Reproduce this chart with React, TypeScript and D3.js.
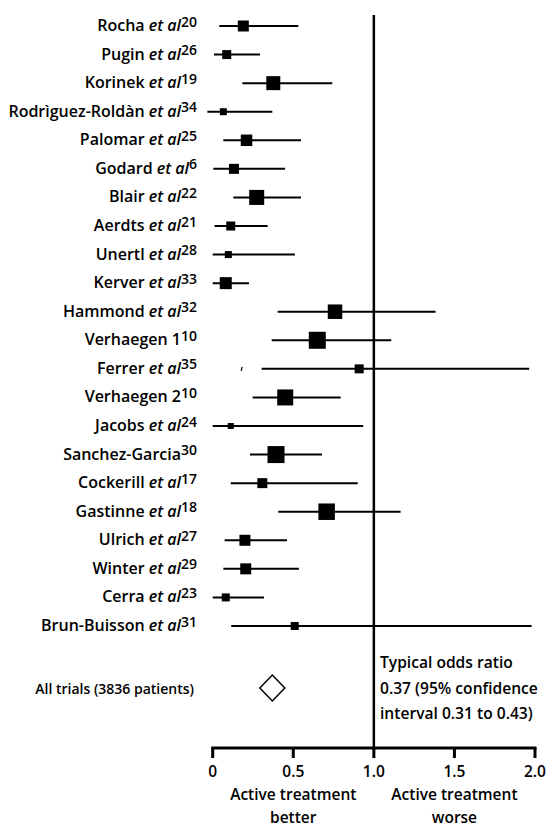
import React from "react";
import * as d3 from "d3";

const studyNames = [
  "Rocha", "Pugin", "Korinek", "Rodrìguez-Roldàn", "Palomar", "Godard", "Blair",
  "Aerdts", "Unertl", "Kerver", "Hammond", "Verhaegen 1", "Ferrer", "Verhaegen 2",
  "Jacobs", "Sanchez-Garcia", "Cockerill", "Gastinne", "Ulrich", "Winter", "Cerra",
  "Brun-Buisson",
];
const hasEtAl = [
  true, true, true, true, true, true, true, true, true, true, true, false, true, false,
  true, false, true, true, true, true, true, true,
];
const refs = [
  "20", "26", "19", "34", "25", "6", "22", "21", "28", "33", "32", "10", "35", "10",
  "24", "30", "17", "18", "27", "29", "23", "31",
];
const oddsRatio = [
  0.19, 0.087, 0.376, 0.066, 0.21, 0.132, 0.273, 0.112, 0.097, 0.081, 0.759, 0.649,
  0.909, 0.45, 0.112, 0.393, 0.308, 0.707, 0.2, 0.205, 0.081, 0.509,
];
const ciLow = [
  0.041, 0.008, 0.184, -0.033, 0.066, 0.004, 0.128, 0.012, 0.0, 0.0, 0.403, 0.366,
  0.304, 0.248, 0.0, 0.231, 0.112, 0.407, 0.074, 0.066, 0.0, 0.115,
];
const ciHigh = [
  0.531, 0.293, 0.742, 0.37, 0.548, 0.449, 0.548, 0.341, 0.51, 0.225, 1.383, 1.108,
  1.964, 0.794, 0.934, 0.678, 0.9, 1.166, 0.461, 0.535, 0.318, 1.979,
];
const weights = [
  12.1, 8.1, 19.6, 4.9, 13.2, 10, 22.5, 8.1, 4.9, 14.4, 21, 28.9, 8.1, 25.6, 3.6,
  28.9, 10, 27.2, 12.1, 12.1, 6.4, 6.4,
];
const pooledLabel = "All trials (3836 patients)";
const pooledOR = 0.37;
const pooledNote = [
  "Typical odds ratio",
  "0.37 (95% confidence",
  "interval 0.31 to 0.43)",
];
const xTicks = [0, 0.5, 1.0, 1.5, 2.0];
const xTickLabels = ["0", "0.5", "1.0", "1.5", "2.0"];
const sideLabels = [
  { v: 0.5, lines: ["Active treatment", "better"] },
  { v: 1.5, lines: ["Active treatment", "worse"] },
];

const FONT = "'Open Sans', Lato, sans-serif";
const W = 600;

export default function App() {
  const width = 547;
  const height = 827;
  const x = d3.scaleLinear().domain([0, 2]).range([212.7, 535]);
  const y = d3.scalePoint<string>().domain(studyNames).range([26, 626]);
  const size = d3.scaleSqrt().domain([0, 28.9]).range([0, 17]);
  const axisY = 748;
  const pooledY = 688;
  const labelRight = 197;

  return (
    <svg
      width={width}
      height={height}
      style={{ position: "absolute", left: 0, top: 0, background: "#fff" }}
      fontFamily={FONT}
      fontWeight={W}
    >
      <rect x={0} y={0} width={width} height={height} fill="#fff" />
      {/* reference line at OR = 1 */}
      <line x1={x(1)} x2={x(1)} y1={15} y2={axisY} stroke="#000" strokeWidth={2.5} />

      {studyNames.map((name, i) => {
        const cy = y(name) as number;
        const s = size(weights[i]);
        return (
          <g key={name + i}>
            <text x={labelRight} y={cy + 5} textAnchor="end" fontSize={16} fill="#000">
              <tspan>{name}</tspan>
              {hasEtAl[i] ? <tspan fontStyle="italic"> et al</tspan> : null}
              <tspan fontSize={14} dy={-4.5}>{refs[i]}</tspan>
            </text>
            <line
              x1={x(ciLow[i])}
              x2={x(ciHigh[i])}
              y1={cy}
              y2={cy}
              stroke="#000"
              strokeWidth={2}
            />
            <rect x={x(oddsRatio[i]) - s / 2} y={cy - s / 2} width={s} height={s} fill="#000" />
          </g>
        );
      })}

      {/* small mark near Ferrer row */}
      <line
        x1={x(0.18) + 0.5}
        x2={x(0.18) - 0.5}
        y1={(y("Ferrer") as number) - 2}
        y2={(y("Ferrer") as number) + 2}
        stroke="#000"
        strokeWidth={1.2}
      />

      {/* pooled estimate */}
      <text x={194} y={pooledY + 6} textAnchor="end" fontSize={14} fill="#000">
        {pooledLabel}
      </text>
      <path
        d={`M${x(pooledOR) - 12.5},${pooledY} L${x(pooledOR)},${pooledY - 13} L${x(pooledOR) + 12.5},${pooledY} L${x(pooledOR)},${pooledY + 13} Z`}
        fill="#fff"
        stroke="#000"
        strokeWidth={1.5}
      />
      {pooledNote.map((t, i) => (
        <text key={t} x={380} y={668 + i * 25.7} fontSize={15.6} fill="#000">
          {t}
        </text>
      ))}

      {/* axis */}
      <line x1={x(0) - 1.5} x2={x(2) + 1.5} y1={axisY} y2={axisY} stroke="#000" strokeWidth={3} />
      {xTicks.map((t, i) => (
        <g key={t}>
          <line x1={x(t)} x2={x(t)} y1={axisY} y2={axisY + 10} stroke="#000" strokeWidth={3} />
          <text x={x(t)} y={777} textAnchor="middle" fontSize={15.5} fill="#000">
            {xTickLabels[i]}
          </text>
        </g>
      ))}
      {sideLabels.map((sl) => (
        <text key={sl.lines[1]} x={x(sl.v)} y={800} textAnchor="middle" fontSize={15.5} fill="#000">
          {sl.lines.map((ln, j) => (
            <tspan key={ln} x={x(sl.v)} dy={j === 0 ? 0 : 23}>
              {ln}
            </tspan>
          ))}
        </text>
      ))}
    </svg>
  );
}
